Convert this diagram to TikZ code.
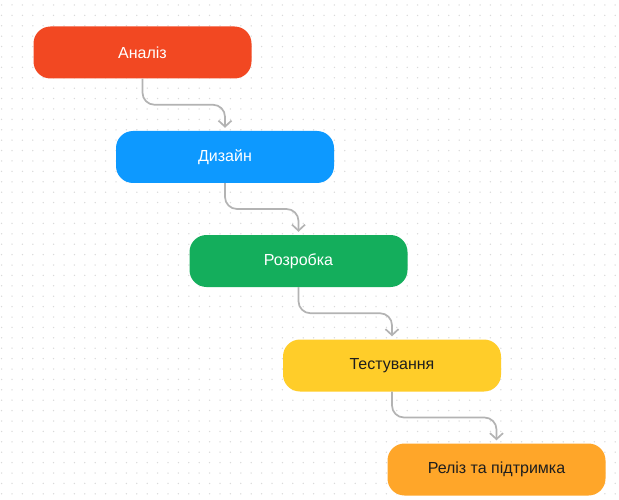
\documentclass[tikz,border=0pt]{standalone}
\usepackage{fontspec}
\setmainfont{Liberation Sans}
\usetikzlibrary{arrows.meta,calc}

\definecolor{stepred}{HTML}{F24822}
\definecolor{stepblue}{HTML}{0D99FF}
\definecolor{stepgreen}{HTML}{14AE5C}
\definecolor{stepyellow}{HTML}{FFCD29}
\definecolor{steporange}{HTML}{FFA629}
\definecolor{linkgray}{HTML}{B3B3B3}
\definecolor{dotgray}{HTML}{DADADA}
\definecolor{darktext}{HTML}{1E1E1E}

\tikzset{
  phase/.style={rounded corners=17pt, minimum width=218pt, minimum height=52pt,
    inner sep=0pt, font=\fontsize{16}{19}\selectfont},
  lighttext/.style={text=white},
  darktxt/.style={text=darktext},
  link/.style={draw=linkgray, line width=1.7pt, rounded corners=12pt,
    -{Straight Barb[length=6pt,width=13pt]}, shorten >=3pt},
}

\begin{document}
\begin{tikzpicture}[x=1pt,y=-1pt]
  % canvas
  \useasboundingbox (0,0) rectangle (619,500);
  \fill[white] (0,0) rectangle (619,500);

  % dotted grid
  \foreach \i in {0,...,59} {
    \foreach \j in {0,...,47} {
      \fill[dotgray] (1.6+10.4*\i, 5+10.4*\j) circle (0.75pt);
    }
  }

  % phases
  \node[phase, fill=stepred, lighttext]      (an)  at (142.5, 52.5) {Аналіз};
  \node[phase, fill=stepblue, lighttext]     (dz)  at (225, 157)    {Дизайн};
  \node[phase, fill=stepgreen, lighttext]    (rz)  at (298.5, 261)  {Розробка};
  \node[phase, fill=stepyellow, darktxt]     (ts)  at (392, 365.5)  {Тестування};
  \node[phase, fill=steporange, darktxt]     (rl)  at (496.5, 469.5){Реліз та підтримка};

  % links between phases
  \foreach \a/\b in {an/dz, dz/rz, rz/ts, ts/rl} {
    \draw[link] (\a.south) |- ($(\a.south)!0.5!(\b.north)$) -| (\b.north);
  }
\end{tikzpicture}
\end{document}
